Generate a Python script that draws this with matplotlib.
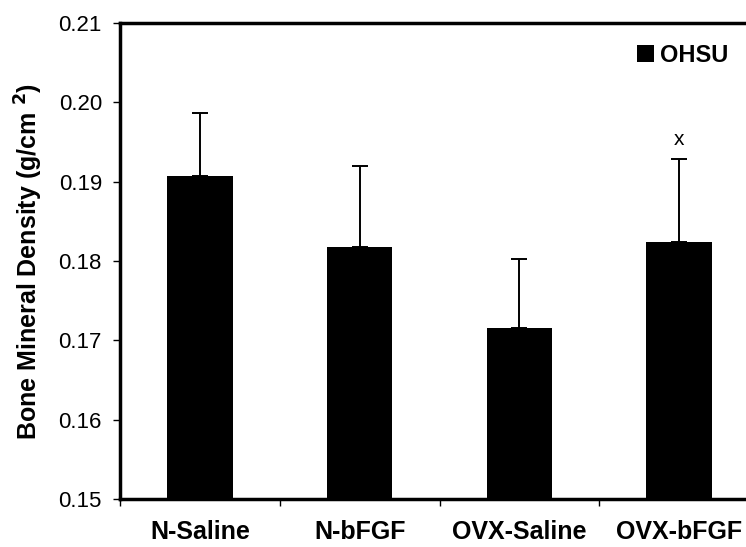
import matplotlib.pyplot as plt
from matplotlib.ticker import FixedLocator

plt.rcParams['font.family'] = ['Liberation Sans', 'DejaVu Sans']

groups = ['N-Saline', 'N-bFGF', 'OVX-Saline', 'OVX-bFGF']
bmd = [0.1907, 0.1818, 0.1716, 0.1824]
sd = [0.0079, 0.0102, 0.0087, 0.0105]
y_ticks = [0.15, 0.16, 0.17, 0.18, 0.19, 0.20, 0.21]

fig = plt.figure(figsize=(7.46, 5.47), dpi=100)
# axes run a little past the right edge of the figure
ax = fig.add_axes([120 / 746, 48 / 547, 639 / 746, 476 / 547])

x = list(range(len(groups)))
ax.bar(x, bmd, width=0.41, color='black', label='OHSU', zorder=2)
ax.errorbar(x, bmd, yerr=[[0] * len(sd), sd], fmt='none', ecolor='black',
            elinewidth=1.4, capsize=5.5, capthick=1.4, zorder=1)
ax.text(3, bmd[3] + sd[3] + 0.0012, 'x', ha='center', va='bottom', fontsize=15)

ax.set_xlim(-0.5, 3.5)
ax.set_ylim(0.15, 0.21)
ax.set_yticks(y_ticks)
ax.set_yticklabels([f'{v:.2f}' for v in y_ticks], fontsize=16)
ax.set_xticks(x)
ax.set_xticklabels(groups, fontsize=18, fontweight='bold')
ax.xaxis.set_minor_locator(FixedLocator([-0.5, 0.5, 1.5, 2.5, 3.5]))
ax.tick_params(axis='x', which='major', length=0, pad=15)
ax.tick_params(axis='x', which='minor', length=5, width=1, direction='out')
ax.tick_params(axis='y', length=5, width=1, direction='out', pad=8)

for side in ['left', 'top', 'bottom', 'right']:
    ax.spines[side].set_linewidth(2.5)

ax.set_ylabel('Bone Mineral Density (g/cm $^{\\mathbf{2}}$)', fontsize=18,
              fontweight='bold', labelpad=10)

ax.legend(loc='upper right', bbox_to_anchor=((728 - 120) / 639, 0.956),
          frameon=False, prop={'size': 17, 'weight': 'bold'},
          handlelength=0.7, handleheight=0.7, handletextpad=0.25,
          borderaxespad=0, borderpad=0)

fig.savefig('out.png', dpi=100)
